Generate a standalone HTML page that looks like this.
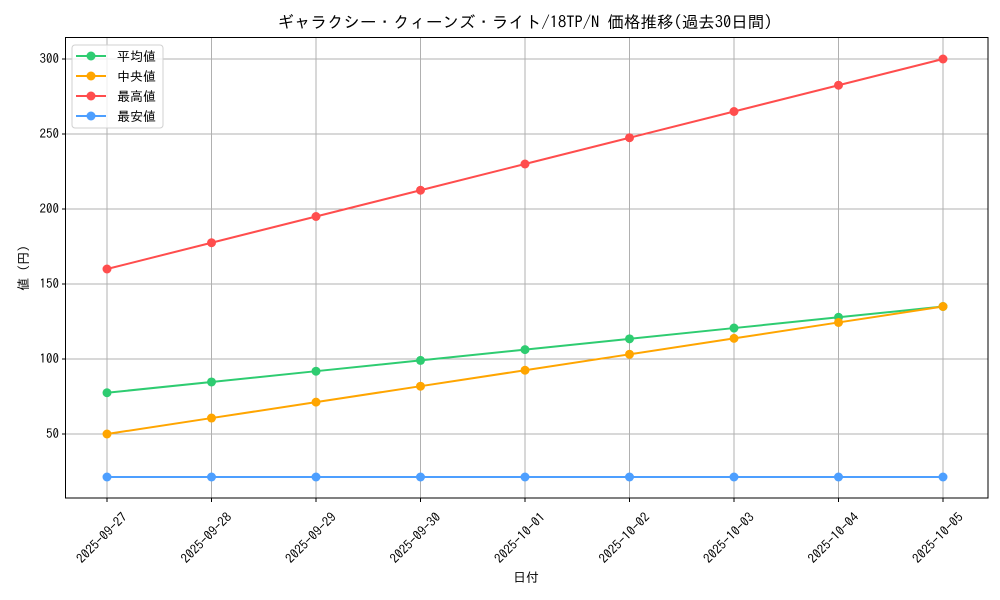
<!DOCTYPE html>
<html><head><meta charset="utf-8"><style>
html,body{margin:0;padding:0;background:#fff}
svg{display:block}
text{font-family:"IPAGothic","Noto Sans CJK JP",sans-serif;fill:#000}
</style></head><body>
<svg width="1000" height="600" viewBox="0 0 1000 600" xmlns="http://www.w3.org/2000/svg">
<rect width="1000" height="600" fill="#fff"/>
<g stroke="#b0b0b0" stroke-width="1">
<line x1="107" y1="38" x2="107" y2="498"/><line x1="211.5" y1="38" x2="211.5" y2="498"/>
<line x1="316" y1="38" x2="316" y2="498"/><line x1="420.5" y1="38" x2="420.5" y2="498"/>
<line x1="525" y1="38" x2="525" y2="498"/><line x1="629.5" y1="38" x2="629.5" y2="498"/>
<line x1="734" y1="38" x2="734" y2="498"/><line x1="838.5" y1="38" x2="838.5" y2="498"/>
<line x1="943" y1="38" x2="943" y2="498"/>
<line x1="66" y1="434" x2="988" y2="434"/><line x1="66" y1="359" x2="988" y2="359"/>
<line x1="66" y1="284" x2="988" y2="284"/><line x1="66" y1="209" x2="988" y2="209"/>
<line x1="66" y1="134" x2="988" y2="134"/><line x1="66" y1="59" x2="988" y2="59"/>
</g>
<g fill="none" stroke-width="2">
<polyline stroke="#2ecc71" points="107,392.75 211.5,381.97 316,371.19 420.5,360.41 525,349.63 629.5,338.84 734,328.06 838.5,317.28 943,306.5"/>
<polyline stroke="#ffa500" points="107,434 211.5,418.06 316,402.13 420.5,386.19 525,370.25 629.5,354.31 734,338.38 838.5,322.44 943,306.5"/>
<polyline stroke="#ff4d4d" points="107,269 211.5,242.75 316,216.5 420.5,190.25 525,164 629.5,137.75 734,111.5 838.5,85.25 943,59"/>
<polyline stroke="#4d9fff" points="107,477 943,477"/>
</g>
<g fill="#2ecc71"><circle cx="107" cy="392.75" r="4.5"/><circle cx="211.5" cy="381.97" r="4.5"/><circle cx="316" cy="371.19" r="4.5"/><circle cx="420.5" cy="360.41" r="4.5"/><circle cx="525" cy="349.63" r="4.5"/><circle cx="629.5" cy="338.84" r="4.5"/><circle cx="734" cy="328.06" r="4.5"/><circle cx="838.5" cy="317.28" r="4.5"/><circle cx="943" cy="306.5" r="4.5"/></g>
<g fill="#ffa500"><circle cx="107" cy="434" r="4.5"/><circle cx="211.5" cy="418.06" r="4.5"/><circle cx="316" cy="402.13" r="4.5"/><circle cx="420.5" cy="386.19" r="4.5"/><circle cx="525" cy="370.25" r="4.5"/><circle cx="629.5" cy="354.31" r="4.5"/><circle cx="734" cy="338.38" r="4.5"/><circle cx="838.5" cy="322.44" r="4.5"/><circle cx="943" cy="306.5" r="4.5"/></g>
<g fill="#ff4d4d"><circle cx="107" cy="269" r="4.5"/><circle cx="211.5" cy="242.75" r="4.5"/><circle cx="316" cy="216.5" r="4.5"/><circle cx="420.5" cy="190.25" r="4.5"/><circle cx="525" cy="164" r="4.5"/><circle cx="629.5" cy="137.75" r="4.5"/><circle cx="734" cy="111.5" r="4.5"/><circle cx="838.5" cy="85.25" r="4.5"/><circle cx="943" cy="59" r="4.5"/></g>
<g fill="#4d9fff"><circle cx="107" cy="477" r="4.5"/><circle cx="211.5" cy="477" r="4.5"/><circle cx="316" cy="477" r="4.5"/><circle cx="420.5" cy="477" r="4.5"/><circle cx="525" cy="477" r="4.5"/><circle cx="629.5" cy="477" r="4.5"/><circle cx="734" cy="477" r="4.5"/><circle cx="838.5" cy="477" r="4.5"/><circle cx="943" cy="477" r="4.5"/></g>
<rect x="65.5" y="37.5" width="922.5" height="460.5" fill="none" stroke="#000" stroke-width="1"/>
<g stroke="#000" stroke-width="1">
<line x1="62" y1="434" x2="66" y2="434"/><line x1="62" y1="359" x2="66" y2="359"/><line x1="62" y1="284" x2="66" y2="284"/><line x1="62" y1="209" x2="66" y2="209"/><line x1="62" y1="134" x2="66" y2="134"/><line x1="62" y1="59" x2="66" y2="59"/>
<line x1="107" y1="498" x2="107" y2="502"/><line x1="211.5" y1="498" x2="211.5" y2="502"/><line x1="316" y1="498" x2="316" y2="502"/><line x1="420.5" y1="498" x2="420.5" y2="502"/><line x1="525" y1="498" x2="525" y2="502"/><line x1="629.5" y1="498" x2="629.5" y2="502"/><line x1="734" y1="498" x2="734" y2="502"/><line x1="838.5" y1="498" x2="838.5" y2="502"/><line x1="943" y1="498" x2="943" y2="502"/>
</g>
<g font-size="13" text-anchor="end">
<text x="59" y="438">50</text><text x="59" y="363">100</text><text x="59" y="288">150</text><text x="59" y="213">200</text><text x="59" y="138">250</text><text x="59" y="63">300</text>
</g>
<g font-size="13" text-anchor="middle">
<text transform="translate(105,541) rotate(-45)">2025-09-27</text>
<text transform="translate(209.5,541) rotate(-45)">2025-09-28</text>
<text transform="translate(314,541) rotate(-45)">2025-09-29</text>
<text transform="translate(418.5,541) rotate(-45)">2025-09-30</text>
<text transform="translate(523,541) rotate(-45)">2025-10-01</text>
<text transform="translate(627.5,541) rotate(-45)">2025-10-02</text>
<text transform="translate(732,541) rotate(-45)">2025-10-03</text>
<text transform="translate(836.5,541) rotate(-45)">2025-10-04</text>
<text transform="translate(941,541) rotate(-45)">2025-10-05</text>
</g>
<text x="526" y="582" font-size="13" text-anchor="middle">日付</text>
<text transform="translate(28,268) rotate(-90)" font-size="13" text-anchor="middle">値 (円)</text>
<text x="525" y="28" font-size="16.5" text-anchor="middle">ギャラクシー・クィーンズ・ライト/18TP/N 価格推移(過去30日間)</text>
<rect x="72" y="45" width="91" height="83" rx="3" fill="#fff" fill-opacity="0.8" stroke="#d0d0d0"/>
<g stroke-width="2">
<line x1="76" y1="56" x2="106" y2="56" stroke="#2ecc71"/><circle cx="91" cy="56" r="4.5" fill="#2ecc71"/>
<line x1="76" y1="76" x2="106" y2="76" stroke="#ffa500"/><circle cx="91" cy="76" r="4.5" fill="#ffa500"/>
<line x1="76" y1="96" x2="106" y2="96" stroke="#ff4d4d"/><circle cx="91" cy="96" r="4.5" fill="#ff4d4d"/>
<line x1="76" y1="116" x2="106" y2="116" stroke="#4d9fff"/><circle cx="91" cy="116" r="4.5" fill="#4d9fff"/>
</g>
<g font-size="13">
<text x="117" y="61">平均値</text><text x="117" y="81">中央値</text><text x="117" y="101">最高値</text><text x="117" y="121">最安値</text>
</g>
</svg>
</body></html>
